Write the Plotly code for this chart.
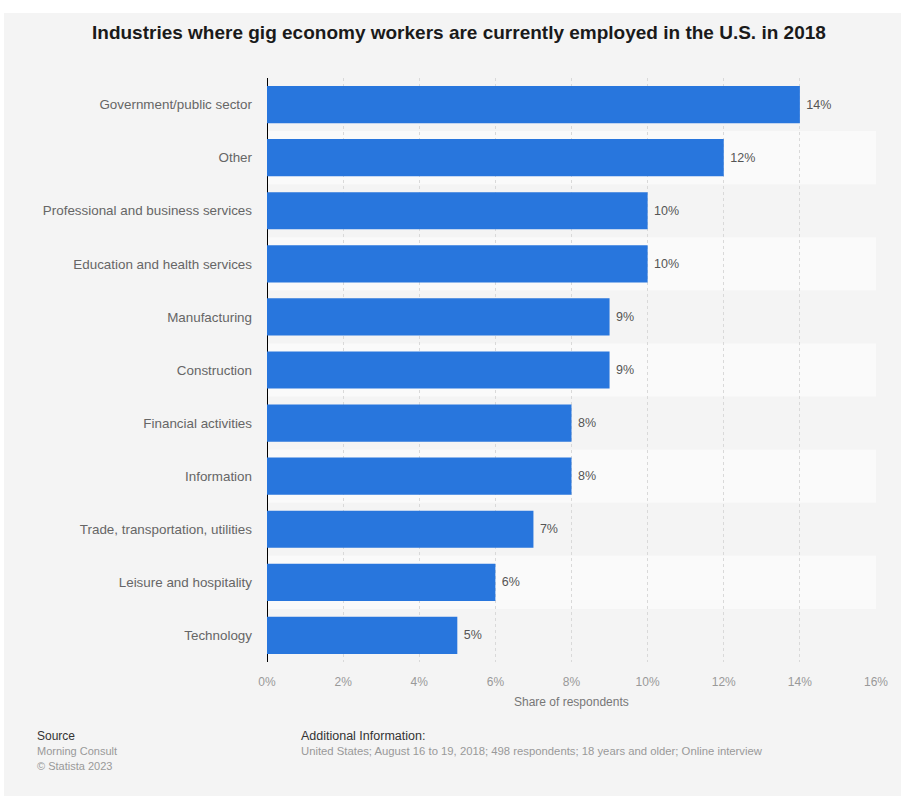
import plotly.graph_objects as go

categories = [
    "Government/public sector",
    "Other",
    "Professional and business services",
    "Education and health services",
    "Manufacturing",
    "Construction",
    "Financial activities",
    "Information",
    "Trade, transportation, utilities",
    "Leisure and hospitality",
    "Technology",
]
values = [14, 12, 10, 10, 9, 9, 8, 8, 7, 6, 5]
tick_vals = [0, 2, 4, 6, 8, 10, 12, 14, 16]
tick_text = [f"{v}%" for v in tick_vals]

FONT = "Liberation Sans, Arial, sans-serif"
BG = "#f4f4f4"
W, H = 901, 798
ML, MR, MT, MB = 267, 25, 78, 136
PW, PH = W - ML - MR, H - MT - MB

fig = go.Figure()
fig.add_trace(go.Bar(
    y=categories, x=values, orientation="h",
    marker=dict(color="#2876dd", line=dict(width=0)),
    text=[f" {v}%" for v in values], textposition="outside",
    textfont=dict(family=FONT, size=12.5, color="#555555"),
    cliponaxis=False, hoverinfo="skip",
))

shapes = []
for i in range(len(categories)):
    if i % 2 == 1:
        shapes.append(dict(type="rect", xref="paper", yref="y", x0=0, x1=1.0,
                           y0=i - 0.5, y1=i + 0.5, fillcolor="#fafafa",
                           line=dict(width=0), layer="below"))
# white page border strips
shapes.append(dict(type="rect", xref="paper", yref="paper", x0=-ML / PW, x1=1 + MR / PW,
                   y0=1 + (MT - 13) / PH, y1=1 + MT / PH + 0.01, fillcolor="white",
                   line=dict(width=0), layer="below"))
shapes.append(dict(type="rect", xref="paper", yref="paper", x0=-ML / PW - 0.01, x1=-(ML - 4) / PW,
                   y0=-MB / PH - 0.01, y1=1 + MT / PH + 0.01, fillcolor="white",
                   line=dict(width=0), layer="below"))
shapes.append(dict(type="rect", xref="paper", yref="paper", x0=-ML / PW - 0.01, x1=1 + MR / PW + 0.01,
                   y0=-MB / PH - 0.01, y1=-(MB - 2) / PH, fillcolor="white",
                   line=dict(width=0), layer="below"))

annotations = [
    dict(text="<b>Industries where gig economy workers are currently employed in the U.S. in 2018</b>",
         xref="paper", yref="paper", x=(459 - ML) / PW, y=1 + (MT - 32) / PH,
         xanchor="center", yanchor="middle", showarrow=False,
         font=dict(family=FONT, size=19, color="#1a1a1a")),
    dict(text="Share of respondents", xref="paper", yref="paper",
         x=(571 - ML) / PW, y=-(702 - MT - PH) / PH, xanchor="center", yanchor="middle",
         showarrow=False, font=dict(family=FONT, size=12, color="#777777")),
    dict(text="Source", xref="paper", yref="paper", x=(35 - ML) / PW, y=-(736 - MT - PH) / PH,
         xanchor="left", yanchor="middle", showarrow=False,
         font=dict(family=FONT, size=12, color="#333333")),
    dict(text="Morning Consult", xref="paper", yref="paper", x=(35 - ML) / PW, y=-(751 - MT - PH) / PH,
         xanchor="left", yanchor="middle", showarrow=False,
         font=dict(family=FONT, size=11, color="#999999")),
    dict(text="© Statista 2023", xref="paper", yref="paper", x=(35 - ML) / PW, y=-(766 - MT - PH) / PH,
         xanchor="left", yanchor="middle", showarrow=False,
         font=dict(family=FONT, size=11, color="#999999")),
    dict(text="Additional Information:", xref="paper", yref="paper", x=(299 - ML) / PW, y=-(736 - MT - PH) / PH,
         xanchor="left", yanchor="middle", showarrow=False,
         font=dict(family=FONT, size=12.5, color="#333333")),
    dict(text="United States; August 16 to 19, 2018; 498 respondents; 18 years and older; Online interview",
         xref="paper", yref="paper", x=(299 - ML) / PW, y=-(751 - MT - PH) / PH,
         xanchor="left", yanchor="middle", showarrow=False,
         font=dict(family=FONT, size=11.3, color="#999999")),
]

fig.update_layout(
    width=W, height=H,
    margin=dict(l=ML, r=MR, t=MT, b=MB),
    paper_bgcolor=BG, plot_bgcolor=BG,
    bargap=0.3, showlegend=False,
    shapes=shapes, annotations=annotations,
    font=dict(family=FONT),
)
fig.update_xaxes(
    range=[0, 16], tickvals=tick_vals, ticktext=tick_text,
    showgrid=True, gridcolor="#d9d9d9", griddash="dot", gridwidth=1,
    zeroline=True, zerolinecolor="#000000", zerolinewidth=1,
    ticks="outside", ticklen=9, tickcolor="rgba(0,0,0,0)",
    tickfont=dict(family=FONT, size=12, color="#999999"),
    fixedrange=True,
)
fig.update_yaxes(
    categoryorder="array", categoryarray=categories, autorange="reversed",
    showgrid=False, ticks="", ticklabelstandoff=14,
    tickfont=dict(family=FONT, size=13.4, color="#666666"),
    fixedrange=True,
)

fig.write_html("out.html", config={"displayModeBar": False})
